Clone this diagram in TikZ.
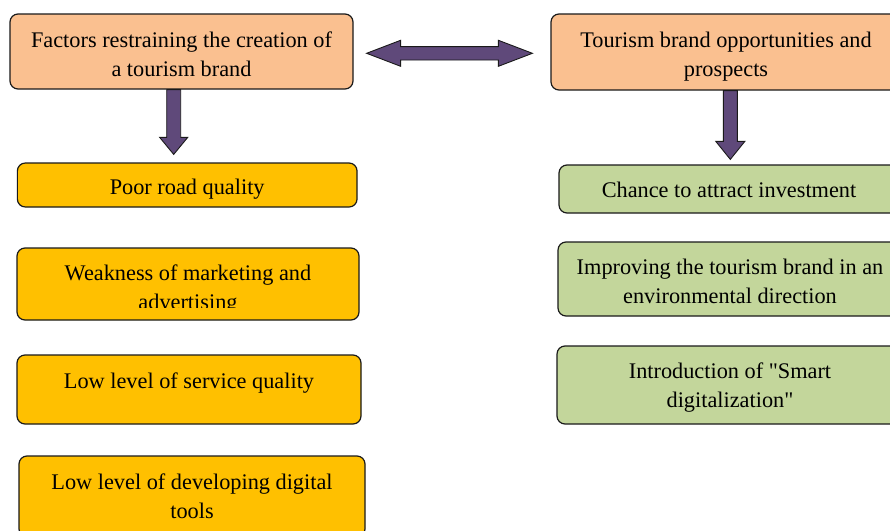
\documentclass[tikz,border=0pt]{standalone}
\usepackage{fontspec}
\setmainfont{Liberation Serif}
\usetikzlibrary{calc}
\definecolor{orangebox}{HTML}{FAC090}
\definecolor{yellowbox}{HTML}{FFC000}
\definecolor{greenbox}{HTML}{C3D69B}
\definecolor{arrowfill}{HTML}{5F497A}
\definecolor{edgecol}{HTML}{1A1A1A}
\begin{document}
\begin{tikzpicture}[x=1pt,y=-1pt,
  box/.style={draw=edgecol, line width=1.2pt, rounded corners=8pt, inner sep=0pt},
  topbox/.style={box, fill=orangebox},
  leftbox/.style={box, fill=yellowbox},
  rightbox/.style={box, fill=greenbox},
  txt/.style={align=center, font=\fontsize{22.3}{29}\selectfont, inner sep=0pt},
  blockarrow/.style={fill=arrowfill, draw=edgecol, line width=0.9pt, line join=miter}]
\useasboundingbox (0,0) rectangle (890,530);
\fill[white] (0,0) rectangle (890,530);
\clip (0,0) rectangle (890,530);

% top boxes
\node[topbox, minimum width=343pt, minimum height=75pt] (tl) at (181.5,51.5) {};
\node[txt] (tlt) at ($(tl.center)+(0,3.2)$) {Factors restraining the creation of\\a tourism brand};
\node[topbox, minimum width=350pt, minimum height=76pt] (tr) at (726,52) {};
\node[txt] (trt) at ($(tr.center)+(0,4.2)$) {Tourism brand opportunities and\\prospects};

% left column
\node[leftbox, minimum width=339.7pt, minimum height=44pt] (pb) at (187.2,185) {};
\node[txt] (pbt) at ($(pb.center)+(0,4)$) {Poor road quality};
\node[leftbox, minimum width=342pt, minimum height=72pt] (wk) at (188,284) {};
\begin{scope}
  \clip (17,248) rectangle (359,307.5);
  \node[txt] (wkt) at ($(wk.center)+(0,6)$) {Weakness of marketing and\\advertising};
\end{scope}
\node[leftbox, minimum width=344pt, minimum height=69pt] (ls) at (189,389.5) {};
\node[txt] (lst) at ($(ls.center)+(0,-6.6)$) {Low level of service quality};
\node[leftbox, minimum width=346pt, minimum height=81pt] (ld) at (192,496.5) {};
\node[txt] (ldt) at (ld.center) {Low level of developing digital\\tools};

% right column
\node[rightbox, minimum width=340pt, minimum height=48pt] (ch) at (729,189) {};
\node[txt] (cht) at ($(ch.center)+(0,1)$) {Chance to attract investment};
\node[rightbox, minimum width=344pt, minimum height=74pt] (im) at (730,279) {};
\node[txt] (imt) at ($(im.center)+(0,2)$) {Improving the tourism brand in an\\environmental direction};
\node[rightbox, minimum width=346pt, minimum height=78pt] (in) at (730,385) {};
\node[txt] (int) at ($(in.center)+(0,3)$) {Introduction of \textquotedbl Smart\\digitalization\textquotedbl};

% block arrows
\coordinate (la1) at ($(tl.south)+(-7.8,0)$);
\coordinate (la2) at ($(pb.north)+(-13.3,-8)$);
\draw[blockarrow] let \p1=(la1), \p2=(la2) in
  (\x1-7pt,\y1) -- (\x1+7pt,\y1) -- (\x1+7pt,\y2+17pt) -- (\x1+14pt,\y2+17pt)
  -- (\x1,\y2) -- (\x1-14pt,\y2+17pt) -- (\x1-7pt,\y2+17pt) -- cycle;

\coordinate (ra1) at ($(tr.south)+(4.3,0)$);
\coordinate (ra2) at ($(ch.north)+(1.3,-5)$);
\draw[blockarrow] let \p1=(ra1), \p2=(ra2) in
  (\x1-7pt,\y1) -- (\x1+7pt,\y1) -- (\x1+7pt,\y2+18pt) -- (\x1+14.5pt,\y2+18pt)
  -- (\x1,\y2) -- (\x1-14.5pt,\y2+18pt) -- (\x1-7pt,\y2+18pt) -- cycle;

\coordinate (dl) at ($(tl.east)+(13,1.8)$);
\coordinate (dr) at ($(tr.west)+(-18,1.3)$);
\draw[blockarrow] let \p1=(dl), \p2=(dr) in
  (\x1,\y1) -- (\x1+34pt,\y1+13pt) -- (\x1+34pt,\y1+6.7pt) -- (\x2-34pt,\y1+6.7pt)
  -- (\x2-34pt,\y1+13pt) -- (\x2,\y1) -- (\x2-34pt,\y1-13pt) -- (\x2-34pt,\y1-6.7pt)
  -- (\x1+34pt,\y1-6.7pt) -- (\x1+34pt,\y1-13pt) -- cycle;
\end{tikzpicture}
\end{document}
